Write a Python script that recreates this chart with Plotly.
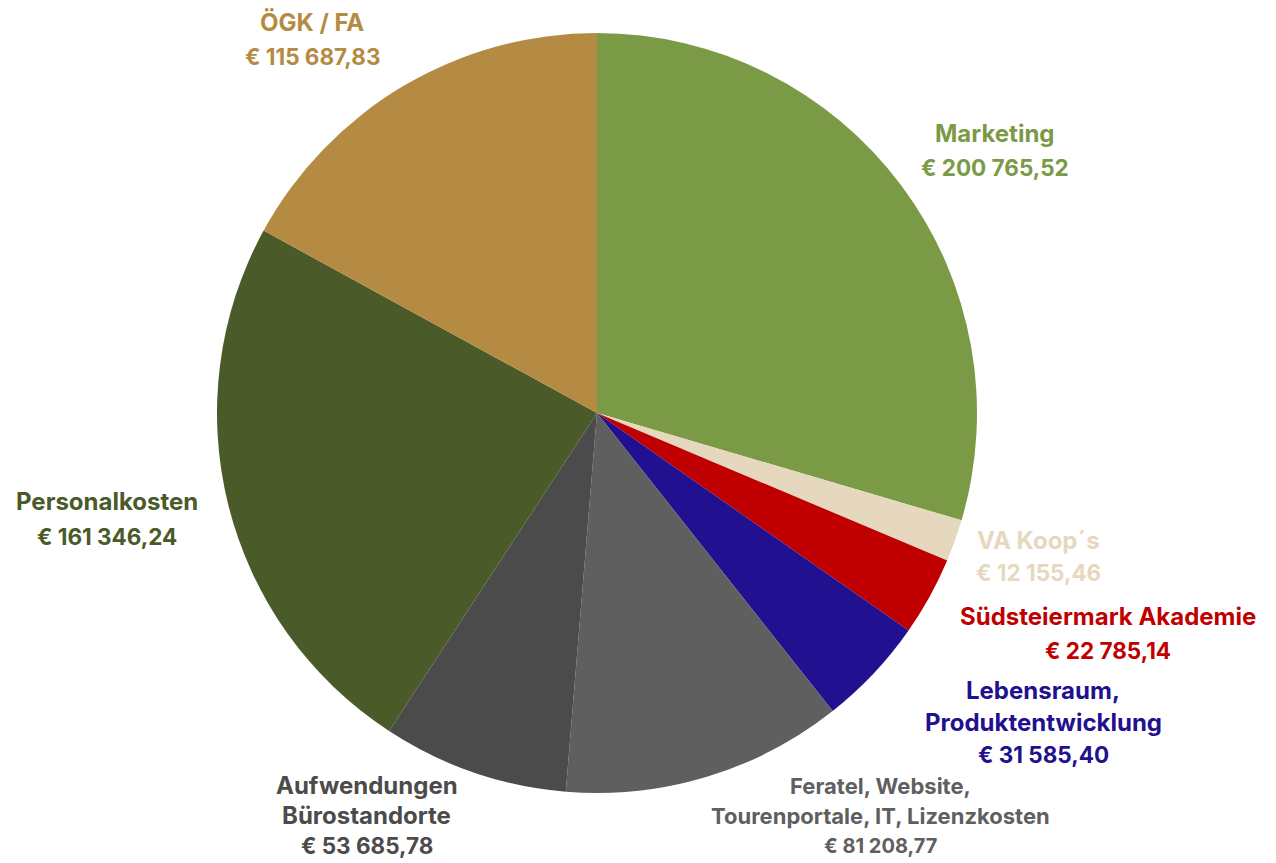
import plotly.graph_objects as go

labels = ["Marketing", "VA Koop´s", "Südsteiermark Akademie", "Lebensraum, Produktentwicklung",
          "Feratel, Website, Tourenportale, IT, Lizenzkosten", "Aufwendungen Bürostandorte",
          "Personalkosten", "ÖGK / FA"]
values = [200765.52, 12155.46, 22785.14, 31585.40, 81208.77, 53685.78, 161346.24, 115687.83]
colors = ["#7B9A45", "#E6D8BE", "#C00000", "#21108F", "#5F5F5F", "#4B4B4B", "#4A5A28", "#B58B44"]
text_colors = ["#7B9A45", "#E6D8BE", "#C00000", "#21108F", "#5F5F5F", "#4B4B4B", "#4A5A28", "#B58B44"]
label_lines = [["Marketing"], ["VA Koop´s"], ["Südsteiermark Akademie"], ["Lebensraum,", "Produktentwicklung"],
               ["Feratel, Website,", "Tourenportale, IT, Lizenzkosten"], ["Aufwendungen", "Bürostandorte"],
               ["Personalkosten"], ["ÖGK / FA"]]
# label block centers (pixels) and layout
label_pos = [(995, 133), (1038, 540), (1108, 616), (1043, 690), (880, 786), (367, 785), (107, 502), (312, 22)]
name_sizes = [24, 24, 24, 24, 22, 24, 24, 24]
value_sizes = [22.5, 22.5, 22.5, 22.5, 20, 22.5, 22.5, 22.5]
line_gaps = [34, 32, 34, 32, 30, 30, 34, 34]

W, H = 1276, 863
cx, cy, r = 597, 413, 380


def fmt(v):
    s = f"{v:,.2f}"
    return "€ " + s.replace(",", " ").replace(".", ",")


fig = go.Figure(go.Pie(
    labels=labels, values=values, sort=False, direction="clockwise", rotation=0,
    marker=dict(colors=colors, line=dict(width=0)), textinfo="none", hoverinfo="label+value",
    domain=dict(x=[(cx - r) / W, (cx + r) / W], y=[1 - (cy + r) / H, 1 - (cy - r) / H]),
    showlegend=False,
))

ann = []
for i, lines in enumerate(label_lines):
    all_lines = lines + [fmt(values[i])]
    sizes = [name_sizes[i]] * len(lines) + [value_sizes[i]]
    x0, y0 = label_pos[i]
    for j, t in enumerate(all_lines):
        ann.append(dict(
            x=x0 / W, y=1 - (y0 + j * line_gaps[i]) / H, xref="paper", yref="paper",
            text=f"<b>{t}</b>", showarrow=False, xanchor="center", yanchor="middle",
            font=dict(family="Inter", size=sizes[j], color=text_colors[i]),
        ))

fig.update_layout(
    width=W, height=H, margin=dict(l=0, r=0, t=0, b=0),
    paper_bgcolor="white", plot_bgcolor="white", annotations=ann,
)
fig.write_html("out.html")
